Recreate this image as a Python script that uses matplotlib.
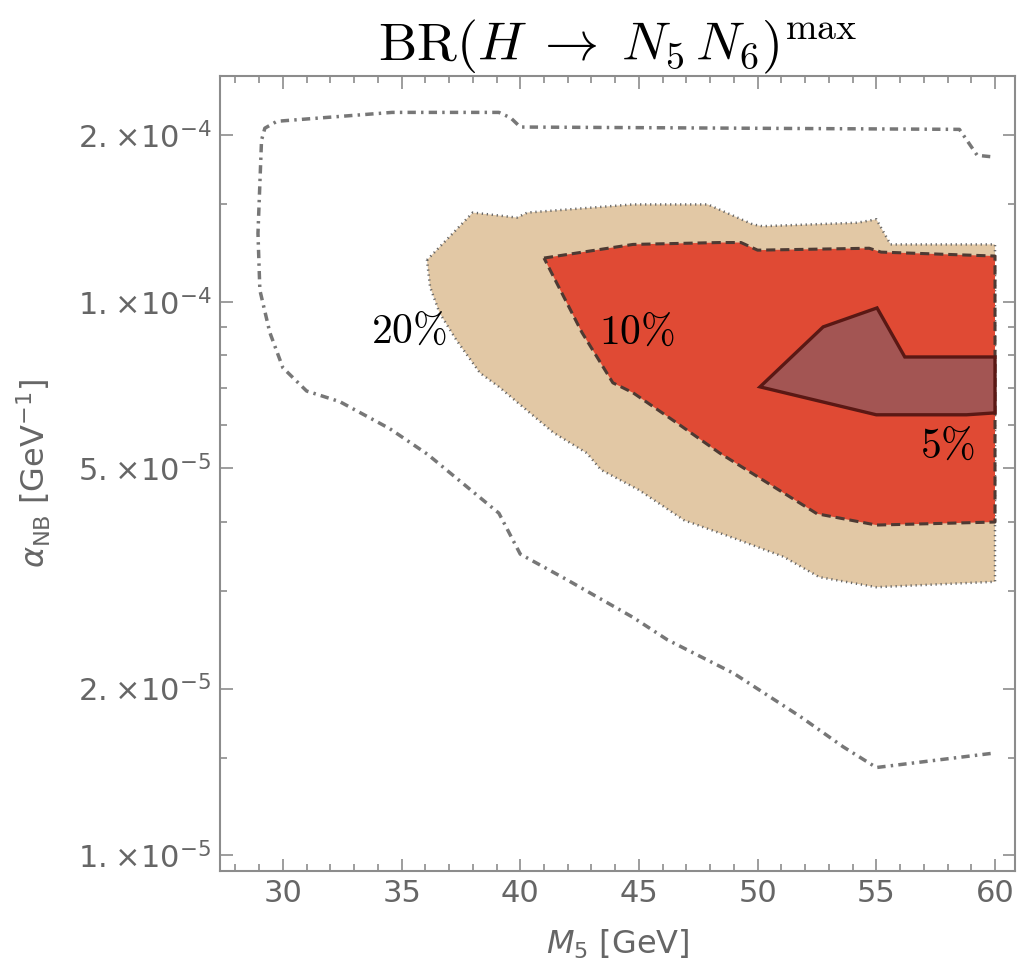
import numpy as np
import matplotlib
matplotlib.use("Agg")
import matplotlib.pyplot as plt
from matplotlib.ticker import FixedLocator, NullFormatter, MultipleLocator

# outer dash-dot contour (open curve), M5 [GeV] and alpha_NB [GeV^-1]
outer_m = [59.8, 59.25, 58.5, 40.0, 39.6, 39.1, 34.6, 29.75, 29.24, 29.1, 28.95, 29.03,
           29.45, 30.0, 31.0, 32.4, 34.5, 36.1, 39.1, 40.0, 42.0, 44.75, 46.2, 49.0,
           51.8, 53.6, 55.0, 56.7, 60.0]
outer_a = [1.83e-4, 1.84e-4, 2.05e-4, 2.07e-4, 2.15e-4, 2.20e-4, 2.20e-4, 2.12e-4, 2.06e-4,
           1.96e-4, 1.33e-4, 1.05e-4, 0.88e-4, 0.76e-4, 0.69e-4, 0.66e-4, 0.59e-4, 0.53e-4,
           0.415e-4, 0.35e-4, 0.314e-4, 0.269e-4, 0.245e-4, 0.213e-4, 0.178e-4, 0.157e-4,
           0.144e-4, 0.147e-4, 0.153e-4]

# 20% region
r20_m = [36.07, 38.0, 39.86, 40.3, 44.75, 47.9, 49.8, 50.2, 54.2, 55.0, 55.6, 60.0,
         60.0, 55.0, 52.6, 51.1, 49.0, 46.9, 45.0, 43.4, 42.8, 41.4, 39.1, 38.3, 37.3,
         36.6, 36.2]
r20_a = [1.19e-4, 1.45e-4, 1.42e-4, 1.45e-4, 1.50e-4, 1.50e-4, 1.38e-4, 1.37e-4, 1.39e-4,
         1.41e-4, 1.27e-4, 1.27e-4, 0.312e-4, 0.305e-4, 0.318e-4, 0.346e-4, 0.374e-4,
         0.403e-4, 0.457e-4, 0.497e-4, 0.533e-4, 0.580e-4, 0.702e-4, 0.744e-4, 0.854e-4,
         0.955e-4, 1.064e-4]

# 10% region
r10_m = [41.0, 44.75, 48.4, 49.3, 50.0, 54.7, 55.2, 60.0, 60.0, 55.0, 52.5, 48.4,
         46.6, 44.75, 43.9, 42.6]
r10_a = [1.20e-4, 1.27e-4, 1.28e-4, 1.28e-4, 1.24e-4, 1.25e-4, 1.23e-4, 1.21e-4,
         0.400e-4, 0.395e-4, 0.414e-4, 0.533e-4, 0.604e-4, 0.685e-4, 0.714e-4, 0.88e-4]

# 5% region
r5_m = [50.1, 52.76, 55.03, 56.2, 60.0, 60.0, 58.8, 55.0]
r5_a = [0.702e-4, 0.901e-4, 0.975e-4, 0.795e-4, 0.795e-4, 0.630e-4, 0.625e-4, 0.625e-4]

labels = ["20%", "10%", "5%"]
label_m = [35.3, 44.9, 58.0]
label_a = [0.886e-4, 0.883e-4, 0.549e-4]

yticks = [1e-5, 2e-5, 5e-5, 1e-4, 2e-4]
ytick_labels = [r"$1.\!\times\!10^{-5}$", r"$2.\!\times\!10^{-5}$", r"$5.\!\times\!10^{-5}$",
                r"$1.\!\times\!10^{-4}$", r"$2.\!\times\!10^{-4}$"]
yminor = [1.5e-5, 3e-5, 4e-5, 6e-5, 7e-5, 8e-5, 9e-5, 1.5e-4]

frame_col = "#8c8c8c"
text_col = "#666666"

fig = plt.figure(figsize=(10.18, 9.74), dpi=100)
ax = fig.add_axes([0.2161, 0.1057, 0.7809, 0.8163])
ax.set_yscale("log")

ax.fill(r20_m, r20_a, color="#e2c8a5", lw=0, zorder=1)
ax.plot(r20_m + r20_m[:1], r20_a + r20_a[:1], color="#666666", lw=1.8,
        ls=(0, (0.5, 1.5)), zorder=2)
ax.fill(r10_m, r10_a, color="#e04a34", lw=0, zorder=3)
ax.plot(r10_m + r10_m[:1], r10_a + r10_a[:1], color="#4d3a33", lw=2.2,
        ls=(0, (3, 1.6)), zorder=4)
ax.fill(r5_m, r5_a, fc="#a35553", ec="#5a1814", lw=2.4, zorder=5)
ax.plot(outer_m, outer_a, color="#777777", lw=2.5, ls=(0, (2.4, 1.5, 0.7, 1.5)), zorder=2)

for t, m, a in zip(labels, label_m, label_a):
    ax.text(m, a, t.replace("%", r"\%").join(["$", "$"]), fontsize=30, math_fontfamily="cm",
            ha="center", va="center", color="black", zorder=6)

ax.set_xlim(27.35, 60.84)
ax.set_ylim(9.36e-6, 2.56e-4)

ax.xaxis.set_major_locator(MultipleLocator(5))
ax.xaxis.set_minor_locator(MultipleLocator(1))
ax.yaxis.set_major_locator(FixedLocator(yticks))
ax.yaxis.set_minor_locator(FixedLocator(yminor))
ax.yaxis.set_minor_formatter(NullFormatter())
ax.set_yticklabels(ytick_labels)

ax.tick_params(which="both", direction="in", top=True, right=True, color=frame_col,
               labelcolor=text_col, labelsize=22, width=1.2)
ax.tick_params(which="major", length=9, pad=6)
ax.tick_params(which="minor", length=5)
for lab in ax.get_xticklabels() + ax.get_yticklabels():
    lab.set_math_fontfamily("dejavusans")
for s in ax.spines.values():
    s.set_color(frame_col)
    s.set_linewidth(1.5)

ax.set_xlabel(r"$M_5$ [GeV]", fontsize=23, color=text_col, labelpad=14)
ax.set_ylabel(r"$\alpha_{\mathrm{NB}}$ [GeV$^{-1}$]", fontsize=23, color=text_col, labelpad=18)

ax.set_title(r"$\mathrm{BR}(H \;\rightarrow\; N_5\, N_6)^{\mathrm{max}}$", fontsize=39,
             math_fontfamily="cm", pad=8)

fig.savefig("out.png", dpi=100)
